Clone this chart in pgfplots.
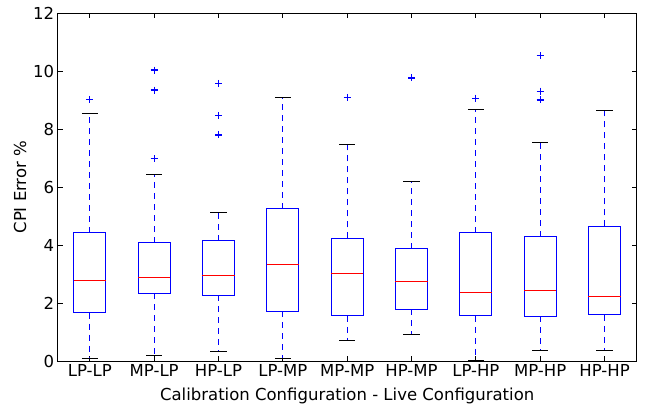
\documentclass[border=0pt]{standalone}
\usepackage{pgfplots}
\pgfplotsset{compat=1.18}
\usepgfplotslibrary{statistics}
\usepackage{fontspec}
\setmainfont{DejaVu Sans}
\definecolor{mpblue}{RGB}{0,0,255}
\definecolor{mpred}{RGB}{255,0,0}
\pgfplotstableread{
pos lw q1 med q3 uw
1 0.09 1.67 2.77 4.43 8.53
2 0.18 2.34 2.87 4.08 6.45
3 0.32 2.27 2.94 4.15 5.12
4 0.07 1.71 3.34 5.26 9.09
5 0.71 1.56 3.03 4.23 7.48
6 0.93 1.78 2.76 3.88 6.19
7 0.02 1.56 2.37 4.43 8.67
8 0.37 1.54 2.43 4.29 7.55
9 0.35 1.59 2.21 4.65 8.65
}\stats
\pgfplotstableread{
pos val
1 9.03
2 10.04
2 9.35
2 6.98
3 9.58
3 8.47
3 7.80
5 9.10
6 9.77
7 9.07
8 10.54
8 9.31
8 9.01
}\outliers
\begin{document}
\begin{tikzpicture}
\pgfplotsset{
  mybox/.style={
    draw=mpblue, line width=1pt, mark=none,
    boxplot/draw direction=y,
    boxplot/box extend=0.5,
    boxplot/every median/.style={draw=mpred, line width=1pt, solid},
    boxplot/every box/.style={draw=mpblue, line width=1pt, solid},
    boxplot/draw/lower whisker/.code={},
    boxplot/draw/upper whisker/.code={},
  },
  whisk/.style={draw=mpblue, line width=1.25pt, dash pattern=on 6pt off 5pt, mark=none, forget plot},
  cap/.style={draw=black, line width=1pt, solid, mark=none, forget plot},
}
\begin{axis}[
  name=ax,
  scale only axis,
  width=579pt, height=347.7pt,
  xmin=0.5, xmax=9.5, ymin=0, ymax=12,
  xtick={1,2,3,4,5,6,7,8,9},
  xticklabels={LP-LP,MP-LP,HP-LP,LP-MP,MP-MP,HP-MP,LP-HP,MP-HP,HP-HP},
  ytick={0,2,4,6,8,10,12},
  tick align=inside,
  major tick length=5pt,
  tick style={black, line width=1pt},
  axis line style={black, line width=1pt},
  /pgf/number format/assume math mode=true,
  tick label style={font=\fontsize{16.5}{19}\selectfont},
  label style={font=\fontsize{16.5}{19}\selectfont},
  xlabel={Calibration Configuration - Live Configuration},
  ylabel={CPI Error \%},
  xlabel style={at={(axis description cs:0.5,0)}, anchor=base, yshift=-39pt},
  ylabel style={at={(axis description cs:-0.0651,0.5)}, anchor=center},
  clip=false,
]
% whiskers (quartile to whisker end) and caps
\addplot[whisk] coordinates {(1,1.67)(1,0.09)};  \addplot[whisk] coordinates {(1,4.43)(1,8.53)};
\addplot[whisk] coordinates {(2,2.34)(2,0.18)};  \addplot[whisk] coordinates {(2,4.08)(2,6.45)};
\addplot[whisk] coordinates {(3,2.27)(3,0.32)};  \addplot[whisk] coordinates {(3,4.15)(3,5.12)};
\addplot[whisk] coordinates {(4,1.71)(4,0.07)};  \addplot[whisk] coordinates {(4,5.26)(4,9.09)};
\addplot[whisk] coordinates {(5,1.56)(5,0.71)};  \addplot[whisk] coordinates {(5,4.23)(5,7.48)};
\addplot[whisk] coordinates {(6,1.78)(6,0.93)};  \addplot[whisk] coordinates {(6,3.88)(6,6.19)};
\addplot[whisk] coordinates {(7,1.56)(7,0.02)};  \addplot[whisk] coordinates {(7,4.43)(7,8.67)};
\addplot[whisk] coordinates {(8,1.54)(8,0.37)};  \addplot[whisk] coordinates {(8,4.29)(8,7.55)};
\addplot[whisk] coordinates {(9,1.59)(9,0.35)};  \addplot[whisk] coordinates {(9,4.65)(9,8.65)};
\addplot[cap] coordinates {(0.875,0.09)(1.125,0.09)};  \addplot[cap] coordinates {(0.875,8.53)(1.125,8.53)};
\addplot[cap] coordinates {(1.875,0.18)(2.125,0.18)};  \addplot[cap] coordinates {(1.875,6.45)(2.125,6.45)};
\addplot[cap] coordinates {(2.875,0.32)(3.125,0.32)};  \addplot[cap] coordinates {(2.875,5.12)(3.125,5.12)};
\addplot[cap] coordinates {(3.875,0.07)(4.125,0.07)};  \addplot[cap] coordinates {(3.875,9.09)(4.125,9.09)};
\addplot[cap] coordinates {(4.875,0.71)(5.125,0.71)};  \addplot[cap] coordinates {(4.875,7.48)(5.125,7.48)};
\addplot[cap] coordinates {(5.875,0.93)(6.125,0.93)};  \addplot[cap] coordinates {(5.875,6.19)(6.125,6.19)};
\addplot[cap] coordinates {(6.875,0.02)(7.125,0.02)};  \addplot[cap] coordinates {(6.875,8.67)(7.125,8.67)};
\addplot[cap] coordinates {(7.875,0.37)(8.125,0.37)};  \addplot[cap] coordinates {(7.875,7.55)(8.125,7.55)};
\addplot[cap] coordinates {(8.875,0.35)(9.125,0.35)};  \addplot[cap] coordinates {(8.875,8.65)(9.125,8.65)};
% boxes and medians
\pgfplotsforeachungrouped \i in {0,...,8}{
  \pgfplotstablegetelem{\i}{pos}\of\stats \let\P\pgfplotsretval
  \pgfplotstablegetelem{\i}{lw}\of\stats \let\LW\pgfplotsretval
  \pgfplotstablegetelem{\i}{q1}\of\stats \let\QA\pgfplotsretval
  \pgfplotstablegetelem{\i}{med}\of\stats \let\MD\pgfplotsretval
  \pgfplotstablegetelem{\i}{q3}\of\stats \let\QC\pgfplotsretval
  \pgfplotstablegetelem{\i}{uw}\of\stats \let\UW\pgfplotsretval
  \edef\temp{\noexpand\addplot[mybox, boxplot prepared={draw position=\P, lower whisker=\LW, lower quartile=\QA, median=\MD, upper quartile=\QC, upper whisker=\UW}] coordinates {};}
  \temp
}
% outliers
\addplot[only marks, mark=+, mark size=3.5pt, mark options={draw=mpblue, line width=1.25pt, solid}] table[x=pos, y=val] {\outliers};
\end{axis}
\pgfresetboundingbox
\path[use as bounding box] ([xshift=-57.7pt,yshift=-44pt]ax.south west) rectangle ([xshift=15.3pt,yshift=13.3pt]ax.north east);
\end{tikzpicture}
\end{document}
